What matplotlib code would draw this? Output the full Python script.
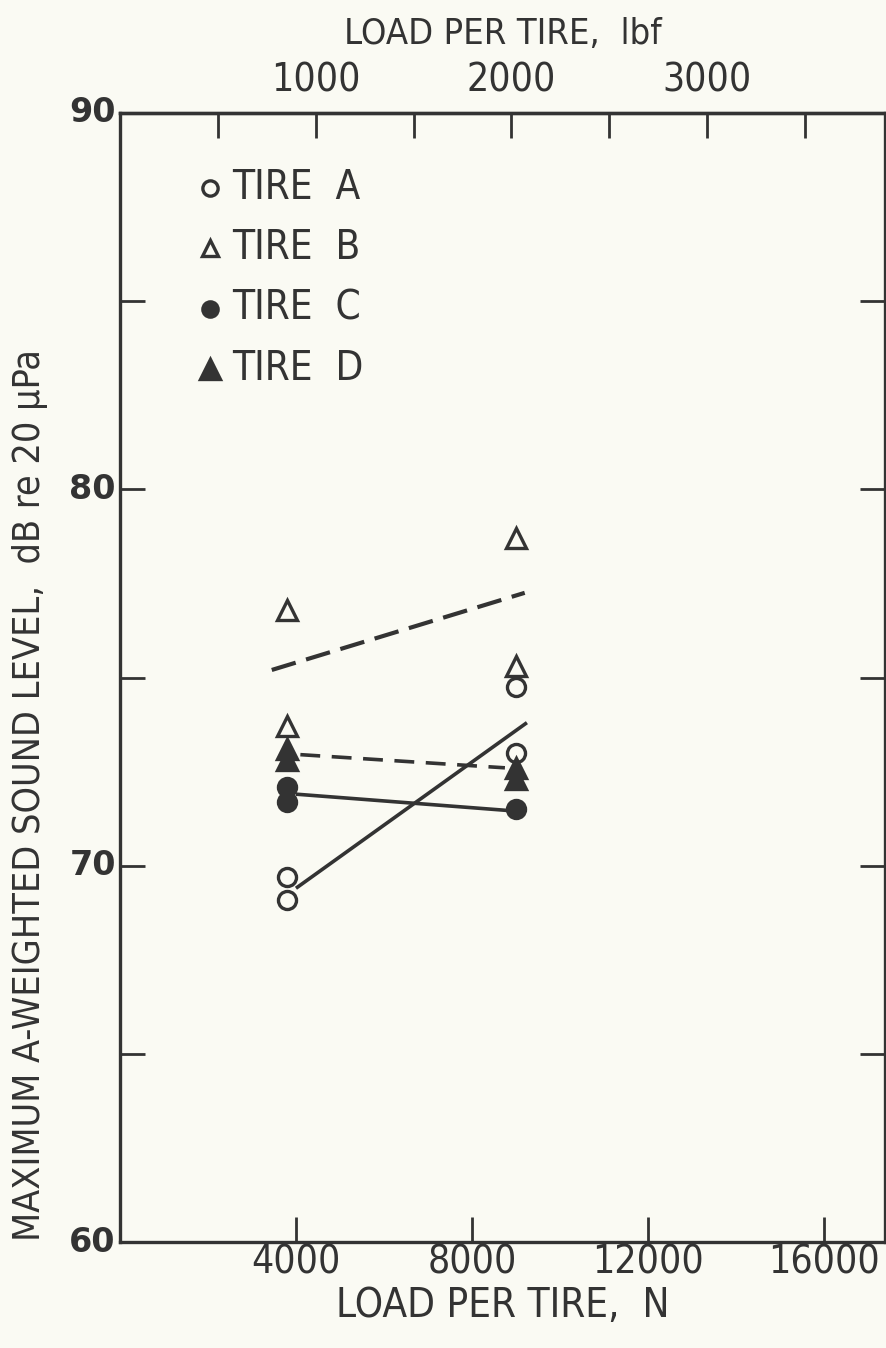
import numpy as np
import matplotlib
matplotlib.use("Agg")
import matplotlib.pyplot as plt

plt.rcParams['font.family'] = ['DejaVu Sans']
plt.rcParams['font.stretch'] = 'condensed'

ink = "#333333"
paper = "#fafaf3"

# measured points, load in N, level in dB(A)
load_a = [3800, 3800, 9000, 9000]
level_a = [69.7, 69.1, 74.75, 73.0]
load_b = [3800, 3800, 9000, 9000]
level_b = [76.8, 73.7, 78.7, 75.3]
load_c = [3800, 3800, 9000]
level_c = [72.1, 71.7, 71.5]
load_d = [3800, 3800, 9000, 9000]
level_d = [73.1, 72.8, 72.6, 72.3]

# fitted lines (end points)
fit_a_x, fit_a_y = [4000, 9250], [69.4, 73.8]
fit_b_x, fit_b_y = [3450, 9200], [75.2, 77.25]
fit_c_x, fit_c_y = [4000, 9000], [71.9, 71.45]
fit_d_x, fit_d_y = [4100, 8750], [72.95, 72.6]

tire_names = ["TIRE  A", "TIRE  B", "TIRE  C", "TIRE  D"]
legend_y = [88.0, 86.4, 84.8, 83.2]

N_PER_LBF = 4.44822

fig = plt.figure(figsize=(8.87, 13.48), dpi=100, facecolor=paper)
ax = fig.add_axes([120/887, 106/1348, 765/887, 1129/1348], facecolor=paper)

ax.plot(fit_a_x, fit_a_y, color=ink, lw=2.6, solid_capstyle='butt')
ax.plot(fit_c_x, fit_c_y, color=ink, lw=2.6, solid_capstyle='butt')
ax.plot(fit_b_x, fit_b_y, color=ink, lw=3.0, dashes=(6, 2.6))
ax.plot(fit_d_x, fit_d_y, color=ink, lw=2.6, dashes=(5.5, 3.2))

mk = dict(color=ink, linestyle='none', markeredgewidth=2.4)
ax.plot(load_a, level_a, marker='o', markersize=13, markerfacecolor=paper, **mk)
ax.plot(load_b, level_b, marker='^', markersize=14, markerfacecolor=paper, **mk)
ax.plot(load_c, level_c, marker='o', markersize=13, markerfacecolor=ink, **mk)
ax.plot(load_d, level_d, marker='^', markersize=14, markerfacecolor=ink, **mk)

# legend drawn as text beside sample markers
styles = [('o', paper, 11), ('^', paper, 12), ('o', ink, 11), ('^', ink, 14)]
for (m, fc, ms), name, yy in zip(styles, tire_names, legend_y):
    ax.plot([2050], [yy], marker=m, markersize=ms, markerfacecolor=fc, **mk)
    ax.text(2550, yy, name, fontsize=29, color=ink, va='center', ha='left')

ax.set_xlim(0, 17390)
ax.set_ylim(60, 90)

ax.set_xticks([4000, 8000, 12000, 16000])
ax.set_xticklabels(["4000", "8000", "12000", "16000"])
ax.set_yticks([60, 65, 70, 75, 80, 85, 90])
ax.set_yticklabels(["60", "", "70", "", "80", "", "90"], stretch='normal',
                   weight='bold')
ax.tick_params(axis='x', direction='in', length=18, width=2, colors=ink,
               labelsize=28, pad=1)
ax.tick_params(axis='y', direction='in', length=18, width=2, colors=ink,
               labelsize=24, pad=3, right=True)
for lbl in ax.get_yticklabels():
    lbl.set_verticalalignment('center')

for s in ax.spines.values():
    s.set_color(ink)
    s.set_linewidth(2.4)

ax.set_xlabel("LOAD PER TIRE,  N", fontsize=29, color=ink, labelpad=3)
ax.set_ylabel("MAXIMUM A-WEIGHTED SOUND LEVEL,  dB re 20 μPa", fontsize=27,
              color=ink)
ax.yaxis.set_label_coords(-0.094, 0.396)

top = ax.secondary_xaxis('top', functions=(lambda n: n / N_PER_LBF,
                                           lambda f: f * N_PER_LBF))
top.set_xticks([500, 1000, 1500, 2000, 2500, 3000, 3500])
top.set_xticklabels(["", "1000", "", "2000", "", "3000", ""])
top.tick_params(direction='in', length=18, width=2, colors=ink,
                labelsize=28, pad=10)
top.spines['top'].set_color(ink)
top.spines['top'].set_linewidth(2.4)
top.set_xlabel("LOAD PER TIRE,  lbf", fontsize=26, color=ink, labelpad=12)

fig.savefig("out.png", dpi=100, facecolor=paper)
